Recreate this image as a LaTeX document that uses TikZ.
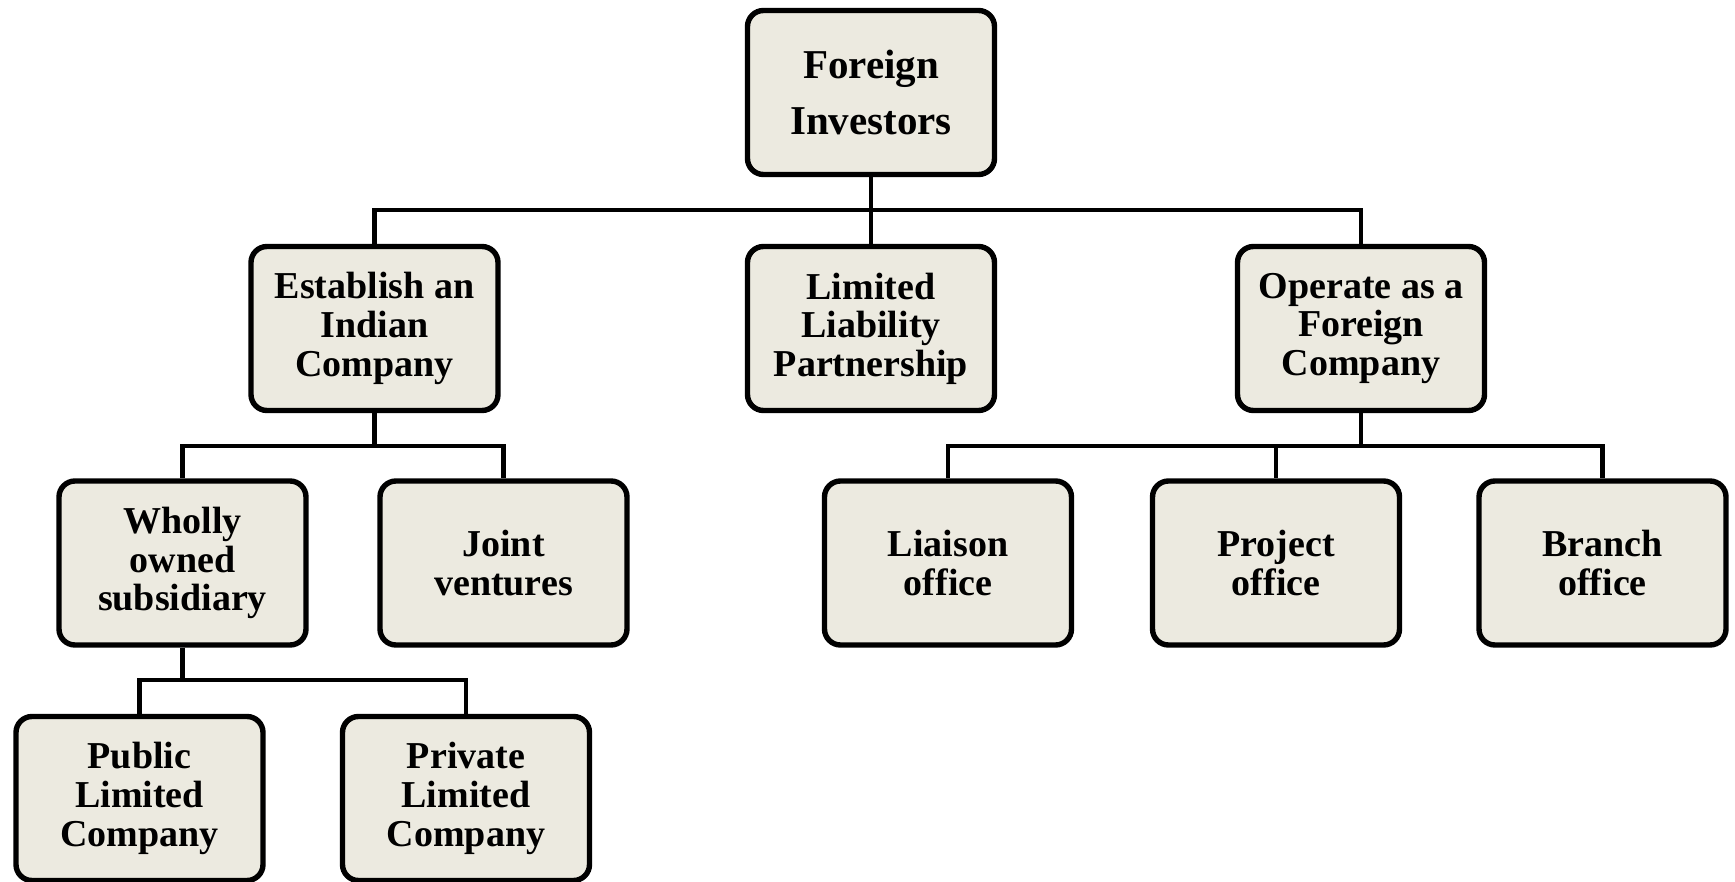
\documentclass[tikz,border=0pt]{standalone}
\usepackage{fontspec}
\setmainfont{Liberation Serif}
\definecolor{boxfill}{RGB}{236,234,224}
\begin{document}
\begin{tikzpicture}[x=0.5pt,y=-0.5pt,
  box/.style={draw=black, line width=2.7pt, fill=boxfill, rounded corners=8pt,
    minimum width=123.5pt, minimum height=82pt, align=center, inner sep=0pt,
    font=\bfseries\fontsize{19}{19.3}\selectfont},
  topbox/.style={box, font=\bfseries\fontsize{20.5}{28}\selectfont},
  conn/.style={draw=black, line width=2.3pt}]
\useasboundingbox (0,0) rectangle (1735,882);
\node[topbox] (fi) at (871,92.5) {Foreign\\Investors};
\node[box] (est) at (374.5,328.5) {Establish an\\Indian\\Company};
\node[box] (llp) at (871,328.5) {Limited\\Liability\\Partnership};
\node[box] (op) at (1361,328.5) {Operate as a\\Foreign\\Company};
\node[box] (wos) at (182.5,563) {Wholly\\owned\\subsidiary};
\node[box] (jv) at (503.5,563) {Joint\\ventures};
\node[box] (lo) at (948,563) {Liaison\\office};
\node[box] (po) at (1276,563) {Project\\office};
\node[box] (bo) at (1602.5,563) {Branch\\office};
\node[box] (pub) at (139.5,798.5) {Public\\Limited\\Company};
\node[box] (pri) at (466,798.5) {Private\\Limited\\Company};
\coordinate (b1) at (0,210);
\coordinate (b2) at (0,446);
\coordinate (b3) at (0,680);
\draw[conn] (fi.south) -- (fi.south |- b1) -| (est.north);
\draw[conn] (fi.south) -- (fi.south |- b1) -| (op.north);
\draw[conn] (fi.south) -- (llp.north);
\draw[conn] (est.south) -- (est.south |- b2) -| (wos.north);
\draw[conn] (est.south) -- (est.south |- b2) -| (jv.north);
\draw[conn] (op.south) -- (op.south |- b2) -| (lo.north);
\draw[conn] (op.south) -- (op.south |- b2) -| (po.north);
\draw[conn] (op.south) -- (op.south |- b2) -| (bo.north);
\draw[conn] (wos.south) -- (wos.south |- b3) -| (pub.north);
\draw[conn] (wos.south) -- (wos.south |- b3) -| (pri.north);
\end{tikzpicture}
\end{document}
